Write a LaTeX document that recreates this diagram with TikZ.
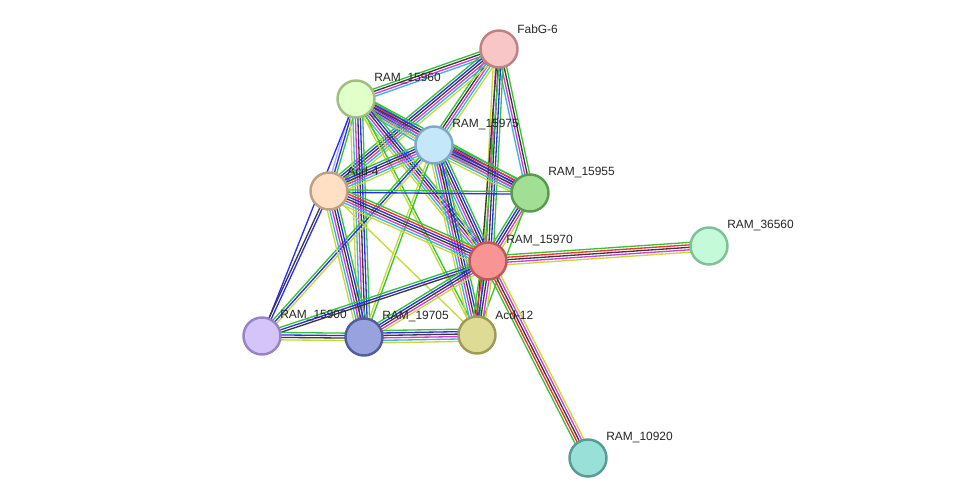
\documentclass[tikz,border=0pt]{standalone}
\usepackage{fontspec}
\setmainfont{Liberation Sans}
\usetikzlibrary{calc,backgrounds}
\definecolor{cgreen}{HTML}{33C433}
\definecolor{cred}{HTML}{FF2A2A}
\definecolor{cblue}{HTML}{2A2AFF}
\definecolor{cblack}{HTML}{3A3A3A}
\definecolor{cmag}{HTML}{D63AD6}
\definecolor{ccyan}{HTML}{36B8DC}
\definecolor{cyel}{HTML}{C4DA36}
\definecolor{chom}{HTML}{A8A8FF}
% one line per evidence channel, side by side
\newcommand{\bundle}[3]{%
  \foreach \col [count=\k] in {#3} {\xdef\bcount{\k}}%
  \foreach \col [count=\k] in {#3} {%
    \pgfmathsetmacro\boff{(\k-(\bcount+1)/2)*1.4}%
    \draw[link, \col] ($(#1)!\boff pt!-90:(#2)$) -- ($(#2)!\boff pt!90:(#1)$);
  }%
}
\tikzset{
  prot/.style={circle, minimum size=0.74cm, inner sep=0pt, line width=1.4pt},
  plabel/.style={anchor=west, inner sep=0pt, font=\fontsize{6.8}{8}\selectfont, text=black!85},
  link/.style={line width=0.75pt}}

\begin{document}
\begin{tikzpicture}[x=0.02cm, y=-0.02cm]
  \useasboundingbox (0,0) rectangle (975,504);
  \node[prot, fill={rgb,255:red,248;green,198;blue,198}, draw={rgb,255:red,190;green,130;blue,130}] (fabg) at (499,49) {};
  \node[prot, fill={rgb,255:red,225;green,255;blue,200}, draw={rgb,255:red,160;green,190;blue,130}] (r15960) at (356,99) {};
  \node[prot, fill={rgb,255:red,196;green,232;blue,250}, draw={rgb,255:red,127;green,169;blue,196}] (r15975) at (434,145) {};
  \node[prot, fill={rgb,255:red,255;green,224;blue,196}, draw={rgb,255:red,191;green,160;blue,128}] (acd4) at (329,191) {};
  \node[prot, fill={rgb,255:red,160;green,223;blue,148}, draw={rgb,255:red,90;green,154;blue,80}] (r15955) at (530,193) {};
  \node[prot, fill={rgb,255:red,249;green,148;blue,148}, draw={rgb,255:red,191;green,88;blue,88}] (r15970) at (488,261) {};
  \node[prot, fill={rgb,255:red,196;green,250;blue,216}, draw={rgb,255:red,128;green,191;blue,152}] (r36560) at (709,246) {};
  \node[prot, fill={rgb,255:red,212;green,196;blue,250}, draw={rgb,255:red,152;green,130;blue,194}] (r15900) at (262,336) {};
  \node[prot, fill={rgb,255:red,151;green,162;blue,223}, draw={rgb,255:red,82;green,94;blue,154}] (r19705) at (364,337) {};
  \node[prot, fill={rgb,255:red,221;green,219;blue,148}, draw={rgb,255:red,158;green,154;blue,88}] (acd12) at (477,335) {};
  \node[prot, fill={rgb,255:red,152;green,224;blue,216}, draw={rgb,255:red,88;green,154;blue,148}] (r10920) at (588,458) {};

  \node[plabel] (fabg-l)   at ($(fabg)+(18,-20)$)   {FabG-6};
  \node[plabel] (r15960-l) at ($(r15960)+(18,-20)$) {RAM\_15960};
  \node[plabel] (r15975-l) at ($(r15975)+(18,-20)$) {RAM\_15975};
  \node[plabel] (acd4-l)   at ($(acd4)+(18,-20)$)   {Acd-4};
  \node[plabel] (r15955-l) at ($(r15955)+(18,-20)$) {RAM\_15955};
  \node[plabel] (r15970-l) at ($(r15970)+(18,-20)$) {RAM\_15970};
  \node[plabel] (r36560-l) at ($(r36560)+(18,-20)$) {RAM\_36560};
  \node[plabel] (r15900-l) at ($(r15900)+(18,-20)$) {RAM\_15900};
  \node[plabel] (r19705-l) at ($(r19705)+(18,-20)$) {RAM\_19705};
  \node[plabel] (acd12-l)  at ($(acd12)+(18,-20)$)  {Acd-12};
  \node[plabel] (r10920-l) at ($(r10920)+(18,-20)$) {RAM\_10920};

  \begin{scope}[on background layer]
    \fill[white] (0,0) rectangle (975,504);
    \bundle{r15960}{fabg}{cgreen,cblack,cmag,ccyan}
    \bundle{r15975}{fabg}{cgreen,cblack,cmag,ccyan,cyel}
    \bundle{acd4}{fabg}{cgreen,cblue,cblack,cmag,ccyan,cyel}
    \bundle{fabg}{r15955}{cgreen,cblack,cmag,ccyan}
    \bundle{fabg}{r15970}{cgreen,cblue,cblack,cmag,cyel}
    \bundle{fabg}{acd12}{cgreen,cblack}
    \bundle{r15960}{r15975}{cgreen,cred,cblue,cblack,cmag,ccyan}
    \bundle{r15960}{acd4}{cgreen,cblue,chom}
    \bundle{r15960}{r15955}{cgreen,cblue,cblack,cmag,ccyan,cyel}
    \bundle{r15960}{r15970}{cgreen,cblue,cblack,cmag,ccyan,cyel}
    \bundle{r15960}{r19705}{cgreen,cblue,cblack,cmag,ccyan,cyel}
    \bundle{r15960}{acd12}{cgreen,cyel}
    \bundle{r15960}{r15900}{cblue}
    \bundle{acd4}{r15975}{cgreen,cblue,cblack,cmag,ccyan,cyel}
    \bundle{r15975}{r15955}{cgreen,cred,cblue,cblack,cmag,ccyan,cyel}
    \bundle{r15975}{r15970}{cgreen,cblue,cblack,cmag,ccyan,cyel}
    \bundle{r15900}{r15975}{cgreen,cblue,cyel}
    \bundle{r15975}{r19705}{cgreen,cyel}
    \bundle{r15975}{acd12}{cgreen,cblue,cblack,cmag,ccyan,cyel}
    \bundle{acd4}{r15955}{cgreen,cblue}
    \bundle{acd4}{r15970}{cgreen,cred,cblue,cblack,cmag,ccyan,cyel}
    \bundle{acd4}{r19705}{cgreen,cblue,cblack,cmag,ccyan,cyel}
    \bundle{acd4}{acd12}{cyel}
    \bundle{acd4}{r15900}{cblue,cblack}
    \bundle{r15970}{r15955}{cgreen,cblue,cblack,cmag,cyel}
    \bundle{r15955}{acd12}{cgreen}
    \bundle{r15970}{r36560}{cgreen,cred,cblack,cmag,cyel}
    \bundle{r10920}{r15970}{cgreen,cred,cblack,cmag,cyel}
    \bundle{r15900}{r15970}{cgreen,cblue,cblack}
    \bundle{r19705}{r15970}{cgreen,cblue,cblack,cmag,cyel}
    \bundle{acd12}{r15970}{cgreen,cred,cblue,cblack,cmag,cyel}
    \bundle{r15900}{r19705}{cgreen,cblue,cblack,cyel}
    \bundle{r19705}{acd12}{cgreen,cblue,cblack,cmag,ccyan,cyel}
  \end{scope}
\end{tikzpicture}
\end{document}
